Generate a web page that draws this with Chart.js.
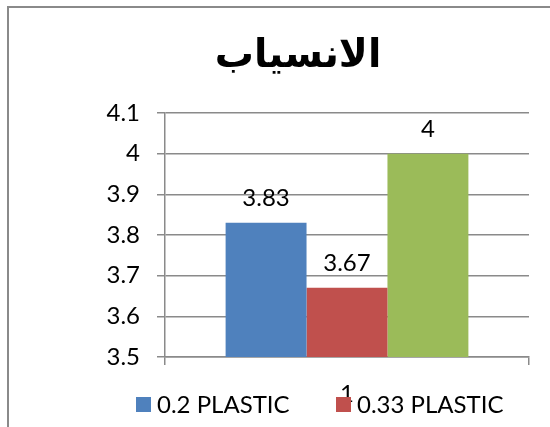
<!DOCTYPE html>
<html>
<head>
<meta charset="utf-8">
<script src="https://cdn.jsdelivr.net/npm/chart.js@4"></script>
<style>
    html, body { margin: 0; padding: 0; background: #fff; overflow: hidden; }
    #box { width: 550px; height: 427px; }
</style>
</head>
<body>
<div id="box"><canvas id="myChart" width="550" height="427"></canvas></div>
<script>
var titulo = 'الانسياب';
var categorias = ['1'];
var nomesSeries = ['0.2 PLASTIC', '0.33 PLASTIC', '0.5 PLASTIC'];
var valores02 = [3.83];
var valores033 = [3.67];
var valores05 = [4];
var yMin = 3.5;
var yMax = 4.1;
var yPasso = 0.1;

var cores = ['#4F81BD', '#C0504D', '#9BBB59'];
var fonte = 'Lato, "Open Sans", sans-serif';
var tam = 24;

// moldura, titulo, rotulos das barras e legenda (so as duas primeiras series aparecem)
var extras = {
    id: 'extras',
    beforeDraw: function (chart) {
        var c = chart.ctx;
        c.save();
        c.strokeStyle = '#8a8a8a';
        c.lineWidth = 2;
        c.beginPath();
        c.moveTo(8, 427);
        c.lineTo(8, 7);
        c.lineTo(550, 7);
        c.stroke();
        c.fillStyle = '#000';
        c.font = 'bold 39px "DejaVu Sans"';
        c.textAlign = 'center';
        c.textBaseline = 'middle';
        c.fillText(titulo, 298, 57);
        c.restore();
    },
    afterDatasetsDraw: function (chart) {
        var c = chart.ctx;
        c.save();
        c.fillStyle = '#000';
        c.font = tam + 'px ' + fonte;
        c.textAlign = 'center';
        c.textBaseline = 'alphabetic';
        chart.data.datasets.forEach(function (ds, i) {
            chart.getDatasetMeta(i).data.forEach(function (bar, j) {
                c.fillText(String(ds.data[j]), bar.x, bar.y - 17);
            });
        });
        c.restore();
    },
    afterDraw: function (chart) {
        var c = chart.ctx;
        var xs = [136, 336];
        c.save();
        c.font = tam + 'px ' + fonte;
        c.textBaseline = 'alphabetic';
        c.textAlign = 'left';
        for (var i = 0; i < 2; i++) {
            var ds = chart.data.datasets[i];
            c.fillStyle = ds.backgroundColor;
            c.fillRect(xs[i], 397, 15, 15);
            c.fillStyle = '#000';
            c.fillText(ds.label, xs[i] + 21, 413);
        }
        c.restore();
    }
};

var ctx = document.getElementById('myChart');
var myChart = new Chart(ctx, {
    type: 'bar',
    data: {
        labels: categorias,
        datasets: [
            { label: nomesSeries[0], data: valores02, backgroundColor: cores[0] },
            { label: nomesSeries[1], data: valores033, backgroundColor: cores[1] },
            { label: nomesSeries[2], data: valores05, backgroundColor: cores[2] }
        ]
    },
    options: {
        responsive: false,
        animation: false,
        devicePixelRatio: 1,
        layout: { padding: { top: 113, left: 0, right: 21, bottom: 0 } },
        datasets: { bar: { categoryPercentage: 0.667, barPercentage: 1 } },
        plugins: {
            legend: { display: false },
            title: { display: false },
            tooltip: { enabled: false }
        },
        scales: {
            x: {
                offset: true,
                afterFit: function (s) { s.height = 70; },
                grid: { drawOnChartArea: false, offset: true, tickLength: 8, color: '#8a8a8a', lineWidth: 1.5 },
                border: { color: '#8a8a8a', width: 1.5 },
                ticks: { color: '#000', font: { family: fonte, size: tam }, padding: 15 }
            },
            y: {
                min: yMin,
                max: yMax,
                afterFit: function (s) { s.width = 165; },
                grid: { tickLength: 8, color: '#8a8a8a', lineWidth: 1.5 },
                border: { color: '#8a8a8a', width: 1.5 },
                ticks: {
                    stepSize: yPasso,
                    color: '#000',
                    font: { family: fonte, size: tam },
                    padding: 17,
                    callback: function (v) { return String(Number(v.toFixed(2))); }
                }
            }
        }
    },
    plugins: [extras]
});
</script>
</body>
</html>
